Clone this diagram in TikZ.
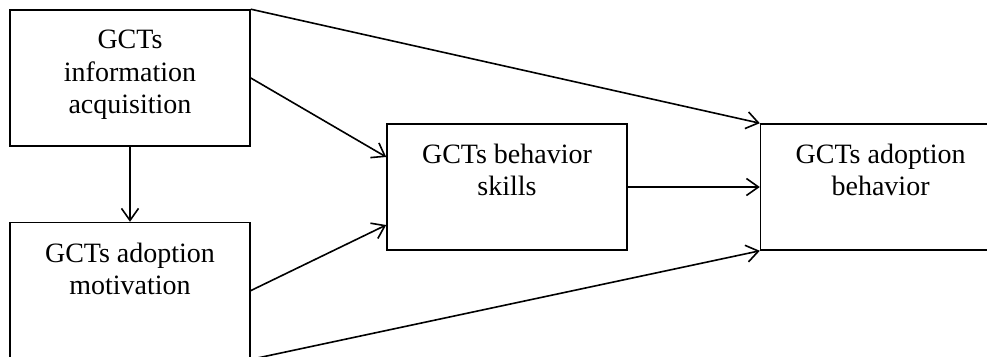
\documentclass[tikz,border=0pt]{standalone}
\usepackage{fontspec}
\setmainfont{Liberation Serif}
\usetikzlibrary{arrows.meta,positioning}

\begin{document}
\begin{tikzpicture}[x=1pt, y=-1pt, line width=1.6pt,
  >={Straight Barb[length=12pt,width=17pt]},
  font=\fontsize{28}{32.5}\selectfont]
\tikzset{block/.style = {draw, rectangle, minimum width=240pt,
  minimum height=126pt, inner sep=0pt},
  caption/.style = {anchor=north, align=center, inner sep=0pt,
  yshift=-20pt}}
\clip (0,0) rectangle (987,356);

  \node[block, minimum height=136pt,
    label={[caption]north:GCTs\\information\\acquisition}]
    (acquisition) at (130,78) {};
  \node[block, minimum height=136pt, below=75pt of acquisition,
    label={[caption]north:GCTs adoption\\motivation}]
    (motivation) {};

  \node[block, label={[caption]north:GCTs behavior\\skills}]
    (skills) at (507,187) {};
  \node[block, right=132pt of skills,
    label={[caption]north:GCTs adoption\\behavior}]
    (adoption) {};

  \draw[->] (acquisition.north east) -- (adoption.north west);
  \draw[->] (acquisition.east) -- ([yshift=30pt]skills.west);
  \draw[->] (acquisition.south) -- (motivation.north);
  \draw[->] (motivation.east) -- ([yshift=-38pt]skills.west);
  \draw[->] (motivation.south east) -- (adoption.south west);
  \draw[->] (skills.east) -- (adoption.west);

\end{tikzpicture}
\end{document}
